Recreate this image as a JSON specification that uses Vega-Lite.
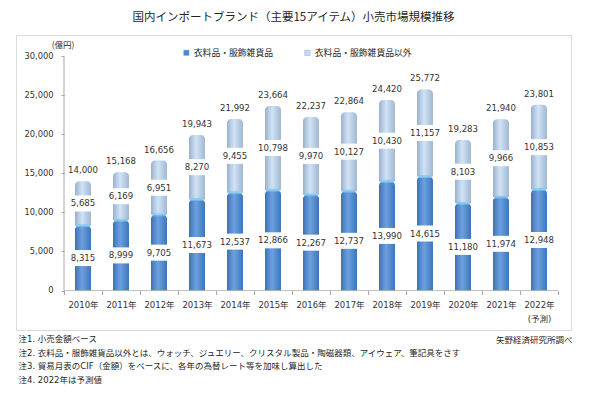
{
  "$schema": "https://vega.github.io/schema/vega-lite/v6.json",
  "width": 555,
  "height": 295,
  "autosize": {"type": "none"},
  "padding": {"left": 16, "top": 35, "right": 29, "bottom": 66},
  "background": "white",
  "title": {
    "text": "国内インポートブランド（主要15アイテム）小売市場規模推移",
    "anchor": "middle",
    "frame": "group",
    "offset": 6,
    "baseline": "middle",
    "font": "Noto Sans CJK JP",
    "fontSize": 11.5,
    "fontWeight": "normal",
    "color": "#1f1f1f"
  },
  "data": {
    "values": [
      {"year": "2010年", "series": "衣料品・服飾雑貨品", "value": 8315},
      {"year": "2010年", "series": "衣料品・服飾雑貨品以外", "value": 5685},
      {"year": "2011年", "series": "衣料品・服飾雑貨品", "value": 8999},
      {"year": "2011年", "series": "衣料品・服飾雑貨品以外", "value": 6169},
      {"year": "2012年", "series": "衣料品・服飾雑貨品", "value": 9705},
      {"year": "2012年", "series": "衣料品・服飾雑貨品以外", "value": 6951},
      {"year": "2013年", "series": "衣料品・服飾雑貨品", "value": 11673},
      {"year": "2013年", "series": "衣料品・服飾雑貨品以外", "value": 8270},
      {"year": "2014年", "series": "衣料品・服飾雑貨品", "value": 12537},
      {"year": "2014年", "series": "衣料品・服飾雑貨品以外", "value": 9455},
      {"year": "2015年", "series": "衣料品・服飾雑貨品", "value": 12866},
      {"year": "2015年", "series": "衣料品・服飾雑貨品以外", "value": 10798},
      {"year": "2016年", "series": "衣料品・服飾雑貨品", "value": 12267},
      {"year": "2016年", "series": "衣料品・服飾雑貨品以外", "value": 9970},
      {"year": "2017年", "series": "衣料品・服飾雑貨品", "value": 12737},
      {"year": "2017年", "series": "衣料品・服飾雑貨品以外", "value": 10127},
      {"year": "2018年", "series": "衣料品・服飾雑貨品", "value": 13990},
      {"year": "2018年", "series": "衣料品・服飾雑貨品以外", "value": 10430},
      {"year": "2019年", "series": "衣料品・服飾雑貨品", "value": 14615},
      {"year": "2019年", "series": "衣料品・服飾雑貨品以外", "value": 11157},
      {"year": "2020年", "series": "衣料品・服飾雑貨品", "value": 11180},
      {"year": "2020年", "series": "衣料品・服飾雑貨品以外", "value": 8103},
      {"year": "2021年", "series": "衣料品・服飾雑貨品", "value": 11974},
      {"year": "2021年", "series": "衣料品・服飾雑貨品以外", "value": 9966},
      {"year": "2022年", "series": "衣料品・服飾雑貨品", "value": 12948},
      {"year": "2022年", "series": "衣料品・服飾雑貨品以外", "value": 10853}
    ]
  },
  "transform": [
    {"stack": "value", "groupby": ["year"], "sort": [{"field": "series", "order": "ascending"}], "as": ["v0", "v1"]},
    {"calculate": "(datum.v0 + datum.v1) / 2", "as": "mid"}
  ],
  "layer": [
    {
      "layer": [
        {
          "mark": {"type": "bar", "size": 16, "cornerRadiusTopLeft": 4, "cornerRadiusTopRight": 4},
          "encoding": {
            "x": {
              "field": "year", "type": "nominal", "sort": null,
              "scale": {"type": "band", "paddingInner": 0, "paddingOuter": 0.80263, "align": 0.7869},
              "axis": {
                "title": ["注1.  小売金額ベース", "注2.  衣料品・服飾雑貨品以外とは、ウォッチ、ジュエリー、クリスタル製品・陶磁器類、アイウェア、筆記具をさす", "注3.  貿易月表のCIF（金額）をベースに、各年の為替レート等を加味し算出した", "注4.  2022年は予測値"],
                "titleAnchor": "start", "titleAlign": "left", "titleX": 2, "titleY": 44, "titleBaseline": "top",
                "titleFont": "DejaVu Sans, Noto Sans CJK JP", "titleFontSize": 8.5, "titleFontWeight": "normal", "titleColor": "#262626", "titleLineHeight": 13.7,
                "labelAngle": 0, "labelFont": "DejaVu Sans, Noto Sans CJK JP", "labelFontSize": 8.5, "labelColor": "#333333", "labelPadding": 6, "labelLineHeight": 14,
                "labelExpr": "datum.value == '2022年' ? ['2022年', '(予測)'] : datum.value",
                "tickBand": "extent", "ticks": true, "tickSize": 4, "tickColor": "#a6a6a6",
                "domain": false, "grid": false, "offset": -39.5
              }
            },
            "y": {
              "field": "v0", "type": "quantitative",
              "scale": {"domain": [-5064, 32756], "nice": false, "zero": false},
              "axis": {
                "title": "(億円)", "titleAngle": 0, "titleX": 10, "titleY": 9, "titleAlign": "right", "titleBaseline": "middle",
                "titleFont": "Noto Sans CJK JP", "titleFontSize": 8.5, "titleFontWeight": "normal", "titleColor": "#262626",
                "values": [0, 5000, 10000, 15000, 20000, 25000, 30000],
                "labelExpr": "format(datum.value, ',')",
                "labelFont": "DejaVu Sans", "labelFontSize": 8.3, "labelColor": "#333333", "labelPadding": 8,
                "ticks": true, "tickSize": 3, "tickColor": "#a6a6a6", "domain": false, "grid": false, "offset": -48
              }
            },
            "y2": {"field": "v1"},
            "color": {
              "field": "series", "type": "nominal",
              "scale": {"domain": ["衣料品・服飾雑貨品", "衣料品・服飾雑貨品以外"], "range": ["#4788d6", "#c4dbf3"]},
              "legend": {
                "orient": "none", "legendX": 166, "legendY": 13, "direction": "horizontal", "title": null,
                "symbolType": "square", "symbolSize": 30, "symbolStrokeColor": "#9db4d0", "symbolStrokeWidth": 0.5,
                "labelFont": "Noto Sans CJK JP", "labelFontSize": 8.8, "labelColor": "#262626",
                "columnPadding": 30, "labelOffset": 3, "padding": 0
              }
            }
          }
        },
        {
          "mark": {
            "type": "bar", "size": 16, "cornerRadiusTopLeft": 4, "cornerRadiusTopRight": 4,
            "fill": {"gradient": "linear", "x1": 0, "x2": 1, "y1": 0, "y2": 0,
              "stops": [
                {"offset": 0, "color": "rgba(20,40,80,0.25)"},
                {"offset": 0.45, "color": "rgba(255,255,255,0.2)"},
                {"offset": 1, "color": "rgba(20,40,80,0.2)"}
              ]}
          },
          "encoding": {
            "x": {"field": "year", "type": "nominal", "sort": null},
            "y": {"field": "v0", "type": "quantitative"},
            "y2": {"field": "v1"}
          }
        },
        {
          "transform": [{"filter": "datum.series == '衣料品・服飾雑貨品'"}],
          "mark": {"type": "tick", "orient": "horizontal", "color": "#7cc8f2", "thickness": 3, "size": 14},
          "encoding": {
            "x": {"field": "year", "type": "nominal", "sort": null},
            "y": {"field": "v1", "type": "quantitative"}
          }
        },
        {
          "mark": {"type": "tick", "orient": "horizontal", "color": "white", "opacity": 1, "thickness": 16, "size": 22},
          "encoding": {
            "x": {"field": "year", "type": "nominal", "sort": null},
            "y": {"field": "mid", "type": "quantitative"}
          }
        },
        {
          "mark": {"type": "text", "font": "DejaVu Sans", "fontSize": 8.6, "color": "#333333", "baseline": "middle"},
          "encoding": {
            "x": {"field": "year", "type": "nominal", "sort": null},
            "y": {"field": "mid", "type": "quantitative"},
            "text": {"field": "value", "type": "quantitative", "format": ","}
          }
        },
        {
          "transform": [{"filter": "datum.series == '衣料品・服飾雑貨品以外'"}],
          "mark": {"type": "text", "font": "DejaVu Sans", "fontSize": 8.6, "color": "#333333", "baseline": "middle", "dy": -11},
          "encoding": {
            "x": {"field": "year", "type": "nominal", "sort": null},
            "y": {"field": "v1", "type": "quantitative"},
            "text": {"field": "v1", "type": "quantitative", "format": ","}
          }
        },
        {
          "transform": [{"filter": "datum.series == '衣料品・服飾雑貨品'"}],
          "mark": {"type": "tick", "orient": "horizontal", "color": "#a6a6a6", "thickness": 1, "size": 38},
          "encoding": {
            "x": {"field": "year", "type": "nominal", "sort": null},
            "y": {"datum": 0, "type": "quantitative"}
          }
        }
      ]
    },
    {
      "transform": [{"filter": "datum.year == '2010年' && datum.series == '衣料品・服飾雑貨品'"}],
      "mark": {"type": "rule", "color": "#a6a6a6", "strokeWidth": 1},
      "encoding": {
        "x": {"field": "year", "type": "nominal", "sort": null, "bandPosition": 0},
        "y": {
          "datum": 0, "type": "quantitative",
          "scale": {"domain": [-5064, 32756], "nice": false, "zero": false},
          "axis": {
            "orient": "right", "title": "矢野経済研究所調べ", "titleAngle": 0, "titleX": 1, "titleY": 304,
            "titleAlign": "right", "titleBaseline": "middle",
            "titleFont": "Noto Sans CJK JP", "titleFontSize": 8.5, "titleFontWeight": "normal", "titleColor": "#262626",
            "labels": false, "ticks": false, "domain": false, "grid": false
          }
        },
        "y2": {"datum": 30000}
      }
    }
  ],
  "resolve": {"scale": {"y": "independent"}, "axis": {"y": "independent"}},
  "config": {
    "view": {"stroke": "#dadada", "strokeWidth": 1}
  }
}
